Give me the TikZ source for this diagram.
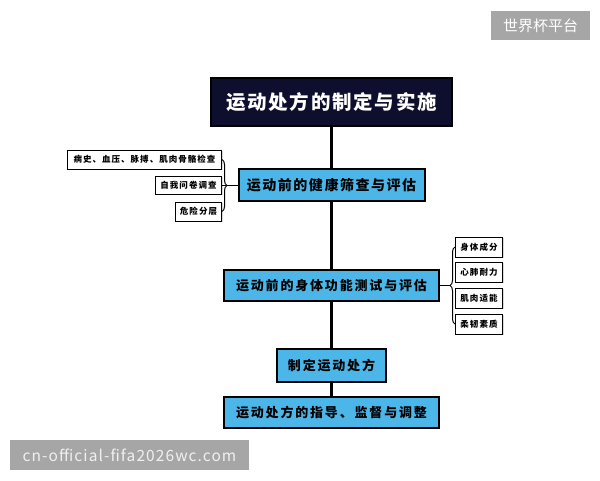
\documentclass[tikz,border=0pt]{standalone}
\usepackage{fontspec}
\setmainfont{Noto Sans CJK SC}
\usepackage{tikz}
\usetikzlibrary{
  positioning,
  calc,
  decorations.pathreplacing,
  shadows
}
\definecolor{navy}{HTML}{0E0E2E}
\definecolor{skyblue}{HTML}{4DB6E8}
\definecolor{markgray}{HTML}{A6A6A6}
\tikzstyle{titlebox}=[draw=black, fill=navy, text=white, line width=1.5pt, font=\fontsize{19.5}{19.5}\selectfont\bfseries\addfontfeature{LetterSpace=9}]
\tikzstyle{stepbox}=[draw=black, fill=skyblue, line width=2pt, font=\fontsize{13}{13}\selectfont\bfseries\addfontfeature{LetterSpace=14}, drop shadow={shadow xshift=1pt, shadow yshift=-1pt, opacity=0.35}]
\tikzstyle{itembox}=[draw=black, fill=white, line width=1pt, minimum height=19pt, inner xsep=2pt, font=\fontsize{8.5}{8.5}\selectfont\bfseries\addfontfeature{LetterSpace=12}, drop shadow={shadow xshift=1pt, shadow yshift=-1pt, opacity=0.3}]
\tikzstyle{trunk}=[line width=3pt]
\tikzstyle{branch}=[line width=1pt]
\tikzstyle{bracket}=[line width=1pt, decorate, decoration={brace, amplitude=5pt}]
\tikzstyle{markbox}=[fill=markgray, text=white, inner sep=0pt, font=\fontsize{15}{15}\selectfont]

\begin{document}
\begin{tikzpicture}[x=1pt, y=-1pt]
        \useasboundingbox (0,0) rectangle (600,480);
        \def\xc{331.5};
        \def\xl{222};
        \def\xr{455};

        % 主線上の箱
        \node[titlebox, minimum width=241pt, minimum height=48pt] (title) at (\xc,102) {运动处方的制定与实施};
        \node[stepbox, minimum width=186pt, minimum height=32pt, font=\fontsize{14}{14}\selectfont\bfseries\addfontfeature{LetterSpace=11}] (screen) at (\xc,185) {运动前的健康筛查与评估};
        \node[stepbox, minimum width=215pt, minimum height=31pt] (test) at (\xc,285.5) {运动前的身体功能测试与评估};
        \node[stepbox, minimum width=109pt, minimum height=33pt] (plan) at (\xc,365.5) {制定运动处方};
        \node[stepbox, minimum width=215pt, minimum height=31pt] (guide) at (\xc,412.5) {运动处方的指导、监督与调整};

        % 主線
        \draw[trunk] (title.south) -- (screen.north);
        \draw[trunk] (screen.south) -- (test.north);
        \draw[trunk] (test.south) -- (plan.north);
        \draw[trunk] (plan.south) -- (guide.north);

        % 左の項目
        \node[itembox, anchor=east, minimum width=154pt] (history) at (\xl,159.5) {病史、血压、脉搏、肌肉骨骼检查};
        \node[itembox, anchor=east, minimum width=66pt, minimum height=18pt] (survey) at (\xl,185) {自我问卷调查};
        \node[itembox, anchor=east, minimum width=46pt] (risk) at (\xl,211.5) {危险分层};

        % 右の項目
        \node[itembox, anchor=west, minimum width=47pt, minimum height=20pt] (body) at (\xr,247) {身体成分};
        \node[itembox, anchor=west, minimum width=47pt, minimum height=20pt] (cardio) at (\xr,272) {心肺耐力};
        \node[itembox, anchor=west, minimum width=47pt, minimum height=20pt] (muscle) at (\xr,298) {肌肉适能};
        \node[itembox, anchor=west, minimum width=47pt, minimum height=20pt] (flex) at (\xr,324) {柔韧素质};

        % 括弧と枝
        \draw[bracket] (history.east) -- (risk.east);
        \draw[branch] (survey.east) -- (screen.west);
        \draw[bracket] (flex.west) -- (body.west);
        \coordinate (rtip) at ($(body.west)!0.5!(flex.west)+(-5,0)$);
        \draw[branch] (test.east) -- (rtip);

        % 透かし
        \node[markbox, minimum width=99pt, minimum height=29pt] (markA) at (540.5,25.5) {世界杯平台};
        \node[markbox, minimum width=239pt, minimum height=30pt, text=white!94!black, font=\fontsize{15.5}{15.5}\selectfont\addfontfeature{LetterSpace=7}] (markB) at (129.5,455) {cn-official-fifa2026wc.com};
      \end{tikzpicture}
\end{document}
